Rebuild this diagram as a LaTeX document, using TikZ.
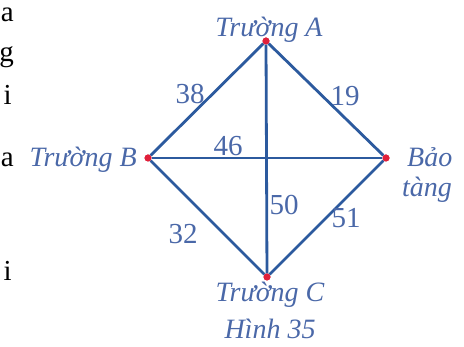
\documentclass[tikz,border=0pt]{standalone}
\usepackage{fontspec}
\setmainfont{Liberation Serif}
\definecolor{edgeblue}{HTML}{2C5A9E}
\definecolor{labblue}{HTML}{4A68A8}
\definecolor{dotred}{HTML}{E0203A}
\begin{document}
\begin{tikzpicture}[x=1pt,y=-1pt,
  edge/.style={draw=edgeblue,line width=2.8pt},
  lab/.style={text=labblue,font=\itshape\fontsize{28}{30}\selectfont,inner sep=0pt},
  num/.style={text=labblue,font=\fontsize{29}{30}\selectfont,inner sep=0pt},
  frag/.style={text=black,font=\fontsize{29}{30}\selectfont,inner sep=0pt,anchor=base east},
  dot/.style={circle,fill=dotred,inner sep=0pt,minimum size=7pt}]
\useasboundingbox (0,0) rectangle (464,347);
\node[dot] (A) at (266,41) {};
\node[dot] (B) at (148,158) {};
\node[dot] (M) at (386,158) {};
\node[dot] (C) at (267,277) {};
\draw[edge] (A) -- (B) -- (C) -- (M) -- (A) -- (C);
\draw[edge] (B) -- (M);
\foreach \n in {A,B,M,C} \node[dot] at (\n) {};
\node[lab,anchor=base] (tA) at (269,37) {Trường A};
\node[lab,anchor=base east] (tB) at (137,167) {Trường B};
\node[lab,anchor=base west] (tM1) at (407,167) {Bảo};
\node[lab,anchor=base west] (tM2) at (402,197) {tàng};
\node[lab,anchor=base] (tC) at (270,302) {Trường C};
\node[lab,anchor=base] (cap) at (270,339) {Hình 35};
\node[num] (n38) at (190,94) {38};
\node[num] (n19) at (345,96) {19};
\node[num] (n46) at (228,146) {46};
\node[num] (n50) at (284,205) {50};
\node[num] (n32) at (183,234) {32};
\node[num] (n51) at (346,218) {51};
\node[frag] (f1) at (14,22) {a};
\node[frag] (f2) at (14,62) {g};
\node[frag] (f3) at (12,105) {i};
\node[frag] (f4) at (14,167) {a};
\node[frag] (f5) at (12,281) {i};
\end{tikzpicture}
\end{document}
